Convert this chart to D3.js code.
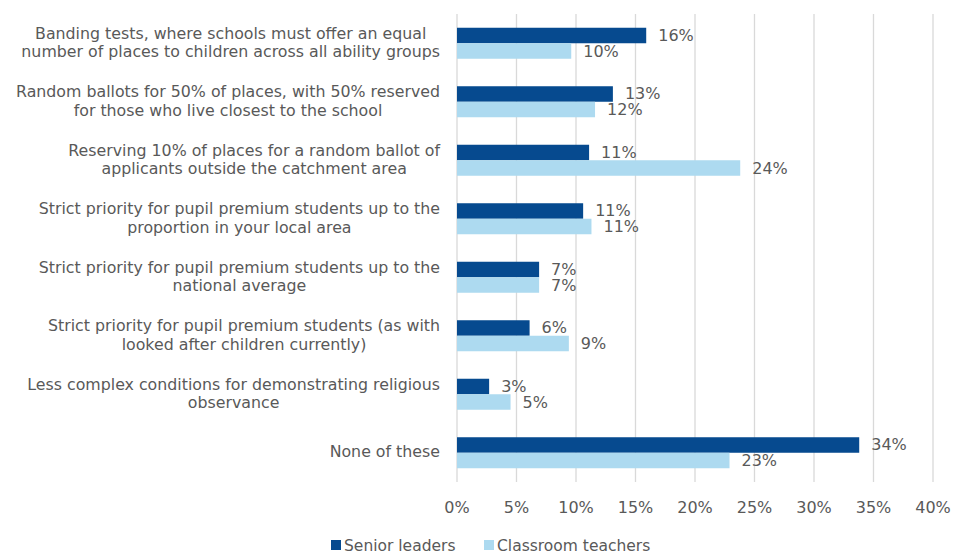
<!DOCTYPE html>
<html><head><meta charset="utf-8">
<script src="https://cdn.jsdelivr.net/npm/d3@7"></script>
<style>body{margin:0;background:#fff}svg{display:block}text{font-family:"DejaVu Sans",Arial,sans-serif;fill:#595959}</style>
</head><body><svg id="c" width="967" height="553"></svg>
<script>
const categories = [
  ["Banding tests, where schools must offer an equal","number of places to children across all ability groups"],
  ["Random ballots for 50% of places, with 50% reserved","for those who live closest to the school"],
  ["Reserving 10% of places for a random ballot of","applicants outside the catchment area"],
  ["Strict priority for pupil premium students up to the","proportion in your local area"],
  ["Strict priority for pupil premium students up to the","national average"],
  ["Strict priority for pupil premium students (as with","looked after children currently)"],
  ["Less complex conditions for demonstrating religious","observance"],
  ["None of these"]
];
const seniorLeaders = [15.9, 13.1, 11.1, 10.6, 6.9, 6.1, 2.7, 33.8];
const classroomTeachers = [9.6, 11.6, 23.8, 11.3, 6.9, 9.4, 4.5, 22.9];
const seriesNames = ["Senior leaders", "Classroom teachers"];
const xTicks = [0,5,10,15,20,25,30,35,40];
const colors = ["#064a8f", "#addaf0"];

(function(){
const svg = d3.select("#c");
const pL = 457, pR = 933, pT = 14, pB = 482;
const x = d3.scaleLinear().domain([0,40]).range([pL,pR]);
const y = d3.scaleBand().domain(d3.range(categories.length)).range([pT,pB]).paddingInner(0.47).paddingOuter(0.235);

svg.append("g").selectAll("line").data(xTicks).join("line")
  .attr("x1", d=>x(d)).attr("x2", d=>x(d)).attr("y1", pT).attr("y2", pB)
  .attr("stroke", "#d9d9d9").attr("stroke-width", 1.3);

svg.append("g").selectAll("text").data(xTicks).join("text")
  .attr("x", d=>x(d)).attr("y", 508).attr("text-anchor","middle")
  .attr("dominant-baseline","middle")
  .style("font-size","16px").text(d=>d+"%");

const series = [seniorLeaders, classroomTeachers];
const bh = y.bandwidth()/2;
series.forEach((vals, si) => {
  const g = svg.append("g");
  g.selectAll("rect").data(vals).join("rect")
    .attr("x", x(0)).attr("y", (d,i)=>y(i)+si*bh)
    .attr("width", d=>x(d)-x(0)).attr("height", bh)
    .attr("fill", colors[si]);
  g.selectAll("text").data(vals).join("text")
    .attr("x", d=>x(d)+12).attr("y", (d,i)=>y(i)+si*bh+bh/2+1)
    .attr("dominant-baseline","middle")
    .style("font-size","16px").text(d=>Math.round(d)+"%");
});

const lh = 18.5;
categories.forEach((lines, i) => {
  const cy = y(i) + y.bandwidth()/2;
  const g = svg.append("g");
  const ts = lines.map((l, k) => g.append("text")
    .attr("y", cy + (k - (lines.length-1)/2)*lh)
    .attr("dominant-baseline","middle")
    .attr("text-anchor","middle")
    .style("font-size","15.8px").text(l));
  const maxW = d3.max(ts, t => t.node().getComputedTextLength());
  ts.forEach(t => t.attr("x", 440 - maxW/2));
});

const lg = svg.append("g");
const legendX = [331, 484];
seriesNames.forEach((n, i) => {
  lg.append("rect").attr("x", legendX[i]).attr("y", 540).attr("width", 10).attr("height", 10).attr("fill", colors[i]);
  lg.append("text").attr("x", legendX[i]+13).attr("y", 546).attr("dominant-baseline","middle")
    .style("font-size","15.5px").text(n);
});
})();
</script></body></html>
